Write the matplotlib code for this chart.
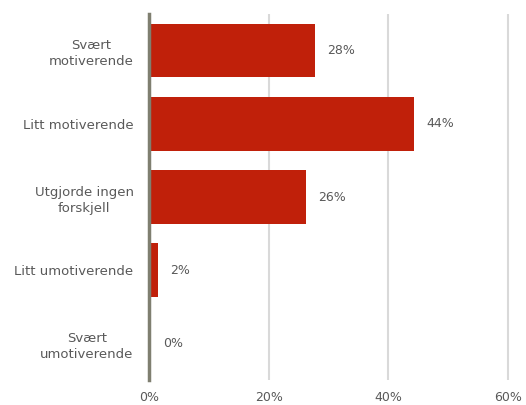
import matplotlib
matplotlib.use("Agg")
import matplotlib.pyplot as plt

categories = ["Svært\nmotiverende", "Litt motiverende", "Utgjorde ingen\nforskjell",
              "Litt umotiverende", "Svært\numotiverende"]
shares = [27.8, 44.3, 26.2, 1.6, 0.3]
ticks = [0, 20, 40, 60]

txt = "#595959"

fig = plt.figure(figsize=(5.26, 4.05), dpi=100)
ax = fig.add_axes([0.283, 0.062, 0.715, 0.903])

pos = range(len(categories))
ax.barh(pos, shares, height=0.73, color="#C0200A", zorder=3)
for p, v in zip(pos, shares):
    ax.text(v + 2.0, p, "%d%%" % round(v), va="center", ha="left",
            fontsize=9, color=txt)

ax.set_ylim(4.5, -0.5)
ax.set_xlim(0, 62.8)
ax.set_xticks(ticks)
ax.set_xticklabels(["%d%%" % t for t in ticks])
ax.set_yticks(list(pos))
ax.set_yticklabels(categories, fontsize=9.5, color=txt, multialignment="center",
                   linespacing=1.3)
ax.tick_params(axis="x", labelsize=9, labelcolor=txt, length=0, pad=8)
ax.tick_params(axis="y", length=0, pad=11)

ax.grid(axis="x", color="#d9d9d9", lw=1.5, zorder=0)
for s in ["top", "right", "bottom"]:
    ax.spines[s].set_visible(False)
ax.spines["left"].set_color("#7f7f70")
ax.spines["left"].set_linewidth(2.5)
ax.spines["left"].set_zorder(4)

fig.savefig("out.png", dpi=100)
